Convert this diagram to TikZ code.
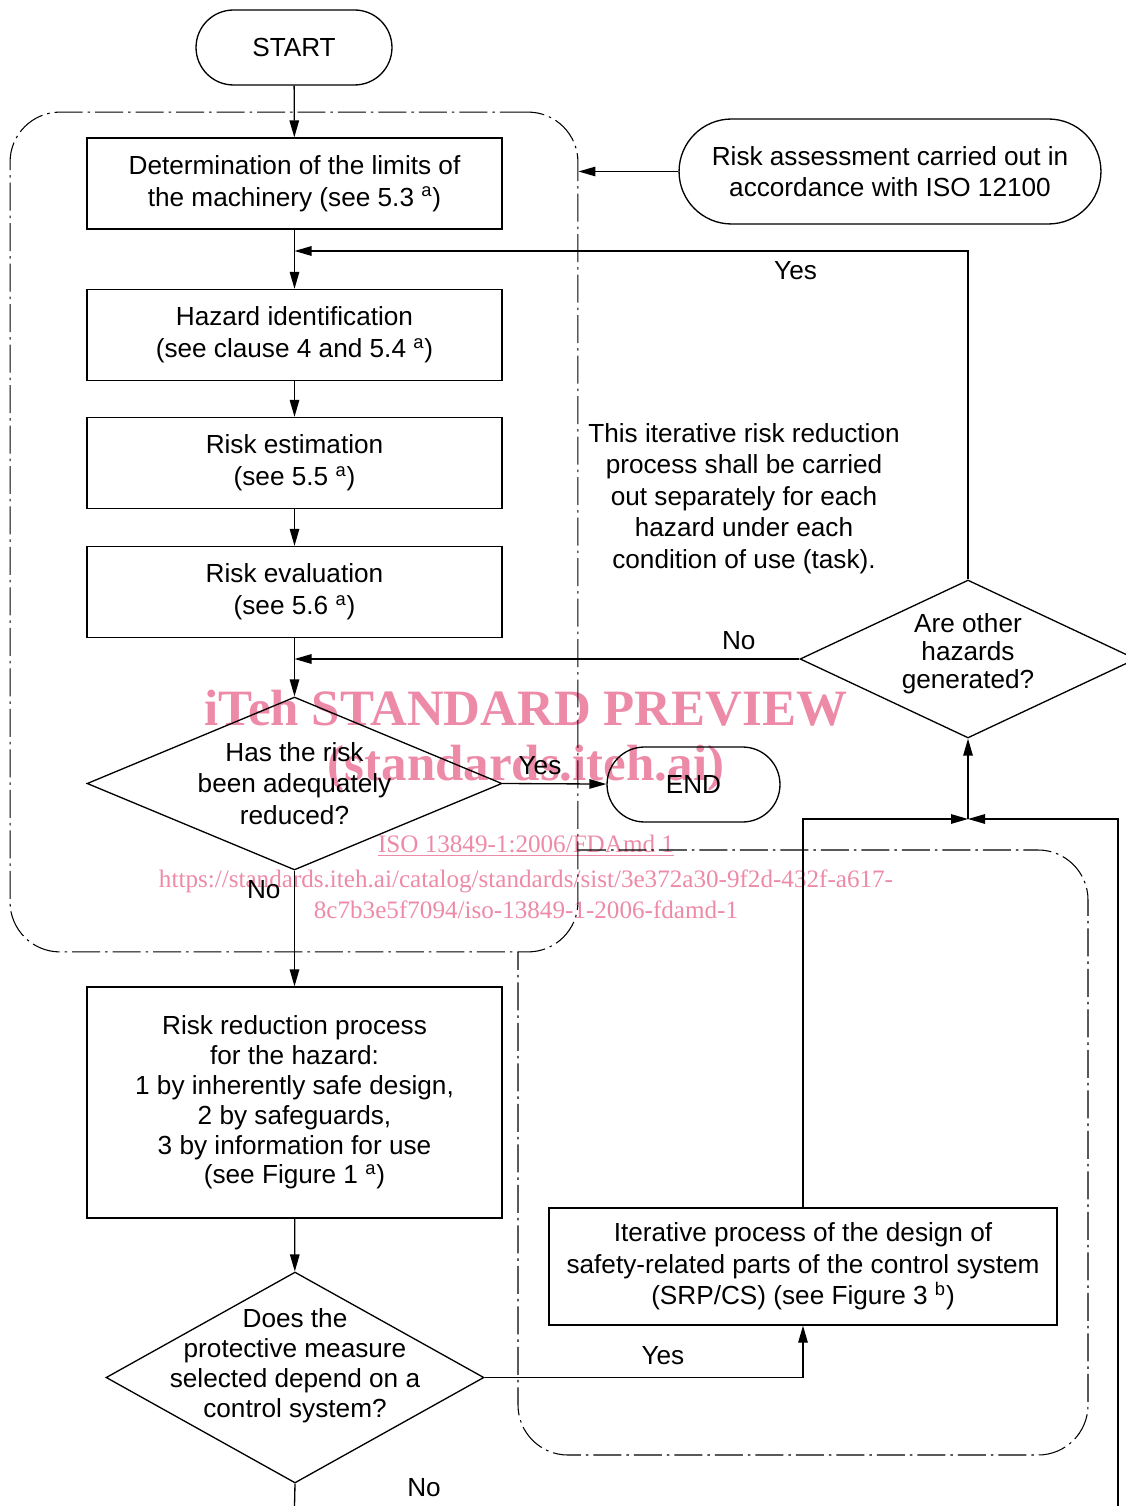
\documentclass[tikz,border=0pt]{standalone}
\usepackage{fontspec}
\setmainfont{Liberation Sans}
\newfontfamily\wmfont{Liberation Serif}
\usepackage{xcolor}
\usepackage{tikz}
\usetikzlibrary{arrows.meta,positioning,calc,shapes.geometric}

\definecolor{wmpink}{RGB}{237,138,168}
\newcommand\flowfont{\fontsize{14.9}{18}\selectfont}

\tikzset{
  procbox/.style={draw,line width=0.75pt,minimum width=8.3cm,minimum height=1.82cm,align=center,inner sep=0pt},
  terminal/.style={draw,line width=0.75pt,rounded corners=0.75cm,minimum height=1.5cm,align=center},
  decision/.style={draw,line width=0.75pt,diamond,inner sep=0pt},
  flow/.style={->,line width=0.75pt},
  region/.style={line width=0.6pt,dash pattern=on 0.56cm off 0.1cm on 0.05cm off 0.1cm},
  wmbig/.style={text=wmpink,font=\wmfont\bfseries\fontsize{29}{29}\selectfont},
  wmsmall/.style={text=wmpink,font=\wmfont\fontsize{14.3}{17.6}\selectfont,align=center}
}

\begin{document}
\begin{tikzpicture}[x=0.02cm,y=-0.02cm,>={Triangle[length=3.4mm,width=1.9mm]},every node/.style={font=\flowfont}]
\useasboundingbox (0,0) rectangle (1125,1506);

% watermark, behind the chart
\node[wmbig] (wmtitle) at (526,708) {iTeh STANDARD PREVIEW};
\node[wmbig] (wmsite) at (526,768) {(standards.iteh.ai)};
\node[wmsmall] (wmref) at (526,846) {\underline{ISO 13849-1:2006/FDAmd 1}};
\node[wmsmall] (wmurl) at (526,894.5) {https://standards.iteh.ai/catalog/standards/sist/3e372a30-9f2d-432f-a617-\\8c7b3e5f7094/iso-13849-1-2006-fdamd-1};

% dash-dot areas
\node[region,draw,rounded corners=1cm,minimum width=11.36cm,minimum height=16.8cm] (stage) at (294,532) {};
\draw[region,rounded corners=1cm] (578,850) -- (1088,850) -- (1088,1455) -- (518,1455) -- (518,952);

% nodes
\node[terminal,minimum width=3.92cm] (start) at (294,47.5) {START};
\node[terminal,rounded corners=1.05cm,minimum width=8.44cm,minimum height=2.1cm] (assess) at (890,171.5) {Risk assessment carried out in\\accordance with ISO 12100};
\node[procbox] (limits) at (294.5,183.5) {Determination of the limits of\\the machinery (see 5.3~\textsuperscript{a})};
\node[procbox] (hazard) at (294.5,335) {Hazard identification\\(see clause 4 and 5.4~\textsuperscript{a})};
\node[procbox] (estim) at (294.5,463) {Risk estimation\\(see 5.5~\textsuperscript{a})};
\node[procbox] (evalu) at (294.5,592) {Risk evaluation\\(see 5.6~\textsuperscript{a})};
\node[decision,minimum width=8.3cm,minimum height=3.46cm,
  label={[align=center]center:Has the risk\\been adequately\\reduced?}] (reduced) at (294.5,783.5) {};
\node[terminal,minimum width=3.46cm] (end) at (693.5,784.5) {END};
\node[procbox,minimum height=4.62cm,font=\fontsize{14.9}{17}\selectfont] (reduce) at (294.5,1102.5) {Risk reduction process\\for the hazard:\\1 by inherently safe design,\\2 by safeguards,\\3 by information for use\\(see Figure 1~\textsuperscript{a})};
\node[decision,minimum width=7.56cm,minimum height=4.22cm,
  label={[align=center,font=\fontsize{14.9}{17}\selectfont,yshift=0.23cm]center:Does the\\protective measure\\selected depend on a\\control system?}] (control) at (295,1377.5) {};
\node[procbox,minimum width=10.16cm,minimum height=2.34cm] (srp) at (803,1266.5) {Iterative process of the design of\\safety-related parts of the control system\\(SRP/CS) (see Figure 3~\textsuperscript{b})};
\node[decision,minimum width=6.72cm,minimum height=3.16cm,
  label={[align=center,font=\fontsize{14.9}{16}\selectfont,yshift=0.1cm]center:Are other\\hazards\\generated?}] (other) at (968,659) {};
\node[align=center] (note) at (744,498.5) {This iterative risk reduction\\process shall be carried\\out separately for each\\hazard under each\\condition of use (task).};
\node (nolabel) at (424,1488) {No};

\coordinate (yesin) at (294.5,251);
\coordinate (noin) at (294.5,659);
\coordinate (merge) at (968,819);
\coordinate (ret) at (1118,1506);
\coordinate (out) at (294.5,1506);

% connectors
\draw[flow] (start) -- (limits);
\draw[flow] (assess.west) -- (stage.east |- assess.west);
\draw[flow] (limits) -- (hazard);
\draw[flow] (hazard) -- (estim);
\draw[flow] (estim) -- (evalu);
\draw[flow] (evalu) -- (reduced);
\draw[flow] (reduced.east) -- node[pos=0.36,above,yshift=0.05cm]{Yes} (end);
\draw[flow] (reduced.south) -- node[pos=0.16,left,xshift=-0.15cm]{No} (reduce);
\draw[flow] (reduce) -- (control);
\draw[line width=0.75pt] (control.south) -- (out);
\draw[flow] (control.east) -| node[pos=0.28,above,yshift=0.12cm]{Yes} (srp.south);
\draw[flow] (srp.north) |- (merge);
\draw[flow] (ret) |- (merge);
\draw[flow] (merge) -- (other.south);
\draw[flow] (other.north) |- node[pos=0.628,below,yshift=-0.08cm]{Yes} (yesin);
\draw[flow] (other.west) -- node[pos=0.12,above,yshift=0.05cm]{No} (noin);
\end{tikzpicture}
\end{document}
